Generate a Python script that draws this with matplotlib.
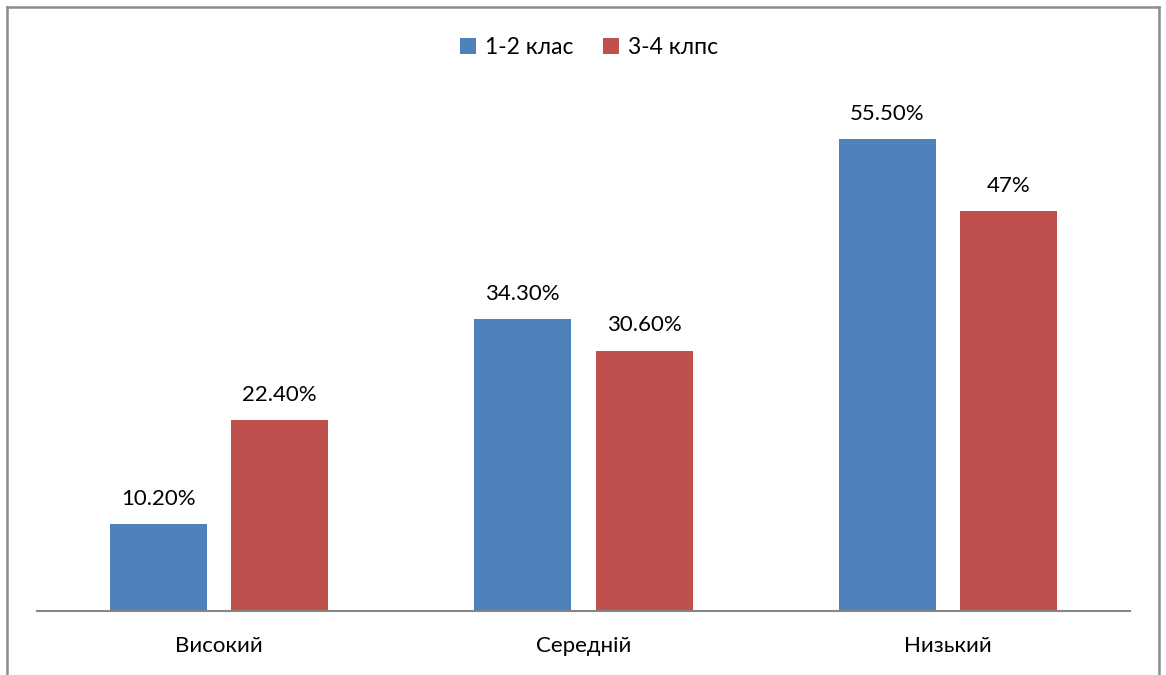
import numpy as np
import matplotlib.pyplot as plt
from matplotlib.lines import Line2D

plt.rcParams['font.family'] = ['Lato', 'DejaVu Sans']

# Дані
categories = ['Високий', 'Середній', 'Низький']
series_names = ['1-2 клас', '3-4 клпс']
values_12 = [10.2, 34.3, 55.5]
values_34 = [22.4, 30.6, 47.0]
labels_12 = ['10.20%', '34.30%', '55.50%']
labels_34 = ['22.40%', '30.60%', '47%']

colors = ['#4F81BD', '#C0504D']

fig = plt.figure(figsize=(11.66, 6.75), dpi=100)
ax = fig.add_axes([0.0317, 0.0948, 0.9374, 0.756])

x = np.arange(len(categories))
width = 0.266
offset = 0.1665

bars1 = ax.bar(x - offset, values_12, width, color=colors[0], label=series_names[0])
bars2 = ax.bar(x + offset, values_34, width, color=colors[1], label=series_names[1])

for bars, labels in ((bars1, labels_12), (bars2, labels_34)):
    for b, lab in zip(bars, labels):
        ax.annotate(lab, (b.get_x() + b.get_width() / 2, b.get_height()),
                    xytext=(0, 11), textcoords='offset points',
                    ha='center', va='bottom', fontsize=16)

ax.set_xlim(-0.5, 2.5)
ax.set_ylim(0, 60)
ax.set_xticks(x)
ax.set_xticklabels(categories, fontsize=16)
ax.tick_params(axis='x', length=0, pad=18)
ax.set_yticks([])
for s in ['left', 'right', 'top']:
    ax.spines[s].set_visible(False)
ax.spines['bottom'].set_color('#868686')
ax.spines['bottom'].set_linewidth(1.5)

ax.legend(loc='center', bbox_to_anchor=(0.505, 1.105), ncol=2, frameon=False,
          fontsize=16.5, handlelength=0.7, handleheight=0.7, handletextpad=0.4,
          columnspacing=1.3)

# рамка діаграми
W, H = 1166, 675
for xs, ys in (([7 / W, 7 / W], [0, 1 - 7 / H]),
               ([7 / W, 1159 / W], [1 - 7 / H, 1 - 7 / H]),
               ([1159 / W, 1159 / W], [0, 1 - 7 / H])):
    fig.add_artist(Line2D(xs, ys, color='#8c8c8c', lw=1.8, transform=fig.transFigure))

fig.savefig('out.png', dpi=100, facecolor='white')
